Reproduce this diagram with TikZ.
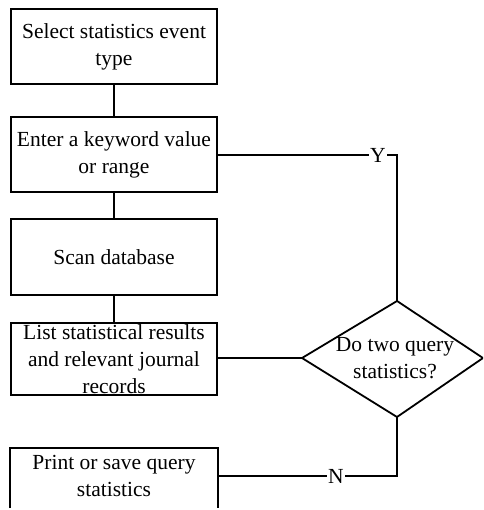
\documentclass[tikz,border=0pt]{standalone}
\usepackage{fontspec}
\setmainfont{Liberation Serif}
\usetikzlibrary{calc}
\begin{document}
\begin{tikzpicture}[x=1pt,y=-1pt,
  every node/.style={font=\fontsize{21.5}{27}\selectfont, inner sep=0pt},
  stepbox/.style={draw, line width=1.8pt, minimum width=206, align=center},
  link/.style={draw, line width=1.8pt},
  tag/.style={fill=white, inner xsep=1pt, inner ysep=0pt}]
\useasboundingbox (0,0) rectangle (483,510);
\clip (0,0) rectangle (483,510);

% process steps
\node[stepbox, minimum height=75] (sel) at (114,46.5) {Select statistics event\\type};
\node[stepbox, minimum height=75] (key) at (114,154.5) {Enter a keyword value\\or range};
\node[stepbox, minimum height=76] (scan) at (114,257) {Scan database};
\node[stepbox, minimum height=72] (list) at (114,359) {List statistical results\\and relevant journal\\records};

% last step runs past the lower edge
\node[stepbox, draw=none, minimum height=54] (out) at (114,476) {Print or save query\\statistics};
\draw[link] ($(out.north west)+(0,60)$) -- (out.north west) -- (out.north east) -- ++(0,60);

% decision
\coordinate (dT) at (397,301);
\coordinate (dB) at (397,417);
\coordinate (dL) at (302,358);
\coordinate (dR) at (483,358);
\draw[link, line join=miter] (dT) -- (dR) -- (dB) -- (dL) -- cycle;
\node[align=center] (ask) at (395,358) {Do two query\\statistics?};

% connectors
\draw[link] (sel.south) -- (key.north);
\draw[link] (key.south) -- (scan.north);
\draw[link] (scan.south) -- (list.north);
\draw[link] (list.east |- dL) -- (dL);
\coordinate (yc) at (397,155);
\coordinate (nc) at (397,476);
\draw[link] (key.east |- yc) -- (yc) -- (dT);
\draw[link] (dB) -- (nc) -- (out.east |- nc);
\node[tag] (ylab) at (378,155) {Y};
\node[tag] (nlab) at (336,476) {N};
\end{tikzpicture}
\end{document}
